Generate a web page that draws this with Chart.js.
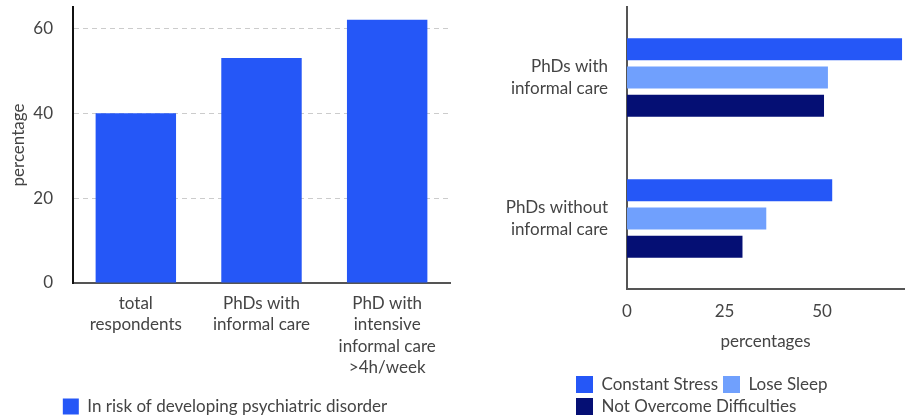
<!DOCTYPE html>
<html>
<head>
<meta charset="utf-8">
<script src="https://cdn.jsdelivr.net/npm/chart.js@4.4.0/dist/chart.umd.min.js"></script>
<style>
  html, body { margin: 0; padding: 0; background: #fff; overflow: hidden; }
  #izq { position: absolute; left: 0; top: 0; width: 460px; height: 425px; }
  #der { position: absolute; left: 480px; top: 0; width: 427px; height: 425px; }
</style>
</head>
<body>
<div id="izq"><canvas id="graficaRiesgo"></canvas></div>
<div id="der"><canvas id="graficaEstres"></canvas></div>
<script>
// left chart
const grupos = [['total', 'respondents'], ['PhDs with', 'informal care'], ['PhD with', 'intensive', 'informal care', '>4h/week']];
const riesgo = [40, 53, 62];
const ticksRiesgo = [0, 20, 40, 60];

// right chart
const perfiles = [['PhDs with', 'informal care'], ['PhDs without', 'informal care']];
const estresConstante = [70.5, 52.6];
const pierdeSueno = [51.5, 35.7];
const sinSuperar = [50.5, 29.6];
const ticksPerfiles = [0, 25, 50];

const azul = '#2557f7';
const celeste = '#70a0fd';
const marino = '#050f74';

Chart.defaults.font.family = 'Lato';
Chart.defaults.font.size = 17;
Chart.defaults.color = '#444';
Chart.defaults.animation = false;

const ponerTicks = (lista) => (axis) => { axis.ticks = lista.map(v => ({ value: v })); };
// fixed axis sizes so the plot area sits where it does in the original
const anchoFijo = (ancho) => (axis) => { axis.width = ancho; axis.paddingTop = 0; axis.paddingBottom = 0; };
const altoFijo = (alto) => (axis) => { axis.height = alto; axis.paddingLeft = 0; axis.paddingRight = 0; };

// legend rows start at the same x, like the original
const legendaIzquierda = {
    id: 'legendaIzquierda',
    afterLayout(chart) { chart.legend.left = 91; }
};

new Chart(document.getElementById('graficaRiesgo').getContext('2d'), {
    type: 'bar',
    data: {
        labels: grupos,
        datasets: [{
            label: 'In risk of developing psychiatric disorder',
            data: riesgo,
            backgroundColor: azul,
            categoryPercentage: 0.8,
            barPercentage: 0.8,
        }],
    },
    options: {
        responsive: true,
        maintainAspectRatio: false,
        layout: { padding: { top: 7, right: 10, left: 0, bottom: 0 } },
        plugins: {
            tooltip: { enabled: false },
            legend: {
                position: 'bottom',
                labels: { boxWidth: 16, boxHeight: 16, padding: 20 },
            },
        },
        scales: {
            x: {
                afterFit: altoFijo(95),
                grid: { display: false, drawTicks: false },
                border: { color: '#555', width: 2 },
                ticks: { padding: 10, font: { lineHeight: 1.25 } },
            },
            y: {
                min: 0,
                max: 65,
                afterBuildTicks: ponerTicks(ticksRiesgo),
                afterFit: anchoFijo(73),
                grid: { color: '#ccc', drawTicks: false },
                border: { color: '#111', width: 2, dash: [5, 4] },
                ticks: { padding: 20 },
                title: { display: true, text: 'percentage', padding: { top: 8, bottom: 7 } },
            },
        },
    },
});

new Chart(document.getElementById('graficaEstres').getContext('2d'), {
    type: 'bar',
    data: {
        labels: perfiles,
        datasets: [
            { label: 'Constant Stress', data: estresConstante, backgroundColor: azul },
            { label: 'Lose Sleep', data: pierdeSueno, backgroundColor: celeste },
            { label: 'Not Overcome Difficulties', data: sinSuperar, backgroundColor: marino },
        ],
    },
    options: {
        indexAxis: 'y',
        responsive: true,
        maintainAspectRatio: false,
        categoryPercentage: 0.6,
        barPercentage: 0.78,
        layout: { padding: { top: 7, right: 3, left: 0, bottom: 0 } },
        plugins: {
            tooltip: { enabled: false },
            legend: {
                position: 'bottom',
                align: 'start',
                labels: { boxWidth: 17, boxHeight: 17, padding: 5 },
            },
        },
        scales: {
            x: {
                min: 0,
                max: 71,
                afterBuildTicks: ponerTicks(ticksPerfiles),
                afterFit: altoFijo(82),
                grid: { display: false, drawTicks: false },
                border: { color: '#555', width: 2 },
                ticks: { padding: 12 },
                title: { display: true, text: 'percentages', padding: { top: 10, bottom: 19 } },
            },
            y: {
                afterFit: anchoFijo(147),
                grid: { display: false, drawTicks: false },
                border: { color: '#555', width: 2 },
                ticks: { padding: 19, font: { lineHeight: 1.25 } },
            },
        },
    },
    plugins: [legendaIzquierda],
});
</script>
</body>
</html>
